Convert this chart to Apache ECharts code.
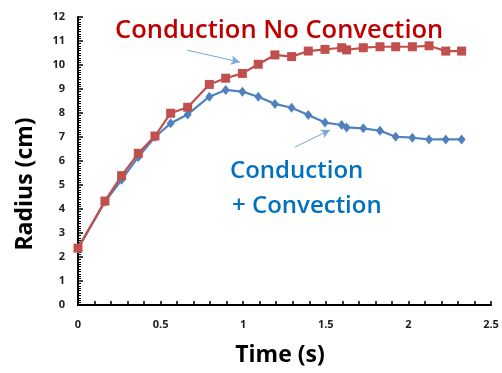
<!DOCTYPE html>
<html><head><meta charset="utf-8">
<script src="https://cdn.jsdelivr.net/npm/echarts@6/dist/echarts.min.js"></script>
<style>html,body{margin:0;padding:0;background:#fff}#c{width:502px;height:373px}</style>
</head><body><div id="c"></div>
<script>
const timeNoConv = [0,0.163,0.264,0.365,0.466,0.561,0.664,0.795,0.894,0.995,1.091,1.192,1.293,1.394,1.495,1.596,1.626,1.727,1.828,1.923,2.024,2.125,2.226,2.322];
const radiusNoConv = [2.37,4.33,5.39,6.32,7.04,7.99,8.24,9.19,9.45,9.65,10.03,10.42,10.35,10.58,10.65,10.72,10.63,10.72,10.76,10.76,10.76,10.8,10.58,10.58];
const timeConv = [0,0.163,0.264,0.365,0.466,0.561,0.664,0.795,0.894,0.995,1.091,1.192,1.293,1.394,1.495,1.596,1.626,1.727,1.828,1.923,2.024,2.125,2.226,2.322];
const radiusConv = [2.35,4.3,5.22,6.17,7.0,7.57,7.94,8.68,8.96,8.89,8.68,8.38,8.22,7.92,7.6,7.5,7.4,7.36,7.26,7.01,6.97,6.9,6.9,6.9];
const xTicks = ['0','0.5','1','1.5','2','2.5'];
const yTicks = ['0','1','2','3','4','5','6','7','8','9','10','11','12'];
const labelNoConv = 'Conduction No Convection';
const labelConv = ['Conduction', '+ Convection'];
const xName = 'Time (s)';
const yName = 'Radius (cm)';
const arrowNoConv = [[0.66,10.62],[0.98,10.12]];
const arrowConv = [[1.314,6.58],[1.525,7.29]];

const chart = echarts.init(document.getElementById('c'));
const pair = (xs, ys) => xs.map((x, i) => [x, ys[i]]);
const arrowStyle = {color:'#7aa6da', width:1, type:'solid'};
chart.setOption({
  animation:false,
  grid:{left:78, right:11, top:17, bottom:68},
  xAxis:{type:'value', min:0, max:2.5, interval:0.5,
    axisLine:{lineStyle:{color:'#000', width:2}},
    axisTick:{inside:true, length:4, lineStyle:{color:'#000', width:1.5}},
    minorTick:{show:true, splitNumber:5, length:4, lineStyle:{color:'#000', width:1.5}},
    splitLine:{show:false},
    axisLabel:{margin:14, fontFamily:'Open Sans', fontWeight:'bold', fontSize:11, color:'#222',
      formatter:v => xTicks.find(t => Math.abs(parseFloat(t)-v)<1e-6) || ''}
  },
  yAxis:{type:'value', min:0, max:12, interval:1,
    axisLine:{show:true, lineStyle:{color:'#000', width:2}},
    axisTick:{show:true, inside:true, length:5, lineStyle:{color:'#000', width:1.5}},
    minorTick:{show:true, splitNumber:10, length:3, lineStyle:{color:'#000', width:1}},
    splitLine:{show:false},
    axisLabel:{margin:13, fontFamily:'Open Sans', fontWeight:'bold', fontSize:11, color:'#222',
      formatter:v => yTicks[Math.round(v)]}
  },
  series:[
    {type:'line', data:pair(timeConv, radiusConv), symbol:'diamond', symbolSize:[8,10],
      itemStyle:{color:'#4F81BD'}, lineStyle:{color:'#4F81BD', width:2.2}, z:3,
      markLine:{silent:true, symbol:['none','arrow'], symbolSize:[7,9], lineStyle:arrowStyle, label:{show:false},
        data:[[{coord:arrowConv[0]},{coord:arrowConv[1]}]]}
    },
    {type:'line', data:pair(timeNoConv, radiusNoConv), symbol:'rect', symbolSize:9,
      itemStyle:{color:'#C0504D'}, lineStyle:{color:'#C0504D', width:2.2}, z:4,
      markLine:{silent:true, symbol:['none','arrow'], symbolSize:[7,9], lineStyle:arrowStyle, label:{show:false},
        data:[[{coord:arrowNoConv[0]},{coord:arrowNoConv[1]}]]}
    }
  ],
  graphic:[
    {type:'text', x:115, y:31, style:{text:labelNoConv, fill:'#C00000', font:'600 25.5px "Open Sans"', verticalAlign:'middle'}},
    {type:'text', x:230, y:171, style:{text:labelConv[0], fill:'#0070C0', font:'600 24px "Open Sans"', verticalAlign:'middle'}},
    {type:'text', x:232, y:206, style:{text:labelConv[1], fill:'#0070C0', font:'600 24px "Open Sans"', verticalAlign:'middle'}},
    {type:'text', x:280, y:355, style:{text:xName, fill:'#000', font:'bold 23px "Open Sans"', align:'center', verticalAlign:'middle'}},
    {type:'text', x:25, y:184, rotation:Math.PI/2, style:{text:yName, fill:'#000', font:'bold 23px "Open Sans"', align:'center', verticalAlign:'middle'}}
  ]
});
</script></body></html>
